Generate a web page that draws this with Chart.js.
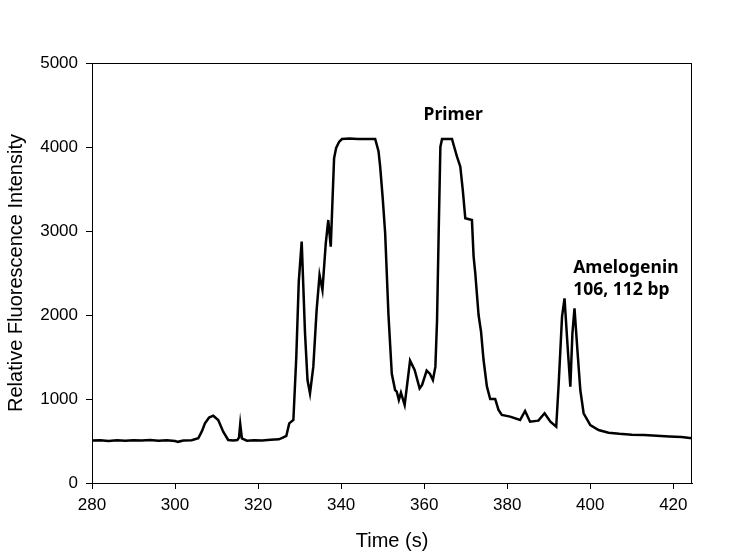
<!DOCTYPE html>
<html>
<head>
<meta charset="utf-8">
<script src="https://cdn.jsdelivr.net/npm/chart.js@4.4.1/dist/chart.umd.min.js"></script>
<style>
  html, body { margin: 0; padding: 0; background: #fff; }
  canvas { display: block; }
</style>
</head>
<body>
<canvas id="chart" width="748" height="557"></canvas>
<script>
// electropherogram trace
const times = [
  280, 282, 284, 286, 288, 290, 292, 294, 296, 298, 300, 300.7, 302, 304, 305.6,
  306.5, 307.2, 308.2, 309.2, 310.4, 311.6, 312.8, 314, 315, 315.4, 315.7, 316.1,
  317.3, 319, 321, 323, 325, 326.1, 326.8, 327.5, 328.5, 329.2, 329.8, 330.5,
  331.3, 331.9, 332.5, 333.3, 334.1, 334.8, 335.5, 336.3, 336.9, 337.5, 338.3,
  338.8, 339.5, 340.2, 342, 344, 346, 348.2, 349, 349.4, 350, 350.6, 351.4,
  352.2, 353, 353.4, 353.9, 354.4, 355.3, 356.6, 357.7, 358.9, 359.5, 360.6,
  361.4, 362.1, 362.7, 363.1, 363.5, 363.9, 364.3, 366.7, 367.1, 367.9, 368.7,
  369.3, 369.9, 371.5, 371.9, 372.3, 373.1, 373.7, 374.3, 375.1, 375.9, 377.1,
  377.9, 378.7, 380.7, 383.1, 384.3, 385.5, 387.5, 389, 390.4, 391.8, 392.4,
  393.2, 393.8, 394.6, 395.2, 395.7, 396.2, 396.9, 397.6, 398.4, 400, 402,
  404.4, 407, 410, 413, 416, 419, 422, 424.5
];
const intensity = [
  505, 510, 500, 508, 502, 510, 505, 512, 503, 508, 500, 490, 505, 510, 532,
  620, 710, 780, 801, 750, 611, 512, 505, 512, 540, 702, 532,
  504, 510, 505, 515, 520, 544, 560, 710, 750, 1500, 2400, 2873,
  1786, 1226, 1067, 1385, 2060, 2476, 2298, 2853, 3131, 2813, 3865,
  3990, 4060, 4095, 4100, 4095, 4095, 4095, 3950, 3766, 3400, 2976, 2000,
  1300, 1107, 1087, 988, 1075, 929, 1456, 1345, 1127, 1167, 1337,
  1298, 1226, 1385, 1940, 3000, 4000, 4095, 4095, 4024, 3885, 3766,
  3488, 3151, 3130, 2698, 2500, 2000, 1800, 1464, 1150, 1000, 1000,
  870, 810, 790, 750, 857, 730, 742, 830, 730, 670, 1187,
  1980, 2198, 1583, 1147, 1782, 2080, 1583, 1107, 830, 690, 631,
  599, 585, 575, 570, 562, 555, 548, 532
];

const xTicks = [280, 300, 320, 340, 360, 380, 400, 420];
const yTicks = [0, 1000, 2000, 3000, 4000, 5000];

const xTitle = 'Time (s)';
const yTitle = 'Relative Fluorescence Intensity';

// labels placed in data units
const notes = [
  { text: ['Primer'], x: 367, y: 4380, align: 'center' },
  { text: ['Amelogenin', '106, 112 bp'], x: 395.9, y: 2560, align: 'left' }
];

const points = times.map((t, i) => ({ x: t, y: intensity[i] }));

const frameAndNotes = {
  id: 'frameAndNotes',
  afterDraw(chart) {
    const { ctx, chartArea, scales } = chart;
    ctx.save();
    ctx.strokeStyle = '#000';
    ctx.lineWidth = 1;
    ctx.strokeRect(chartArea.left + 0.5, chartArea.top + 0.5,
      chartArea.right - chartArea.left - 1, chartArea.bottom - chartArea.top);

    ctx.fillStyle = '#000';
    ctx.font = 'bold 17.5px "Noto Sans", sans-serif';
    ctx.textBaseline = 'middle';
    notes.forEach(note => {
      ctx.textAlign = note.align;
      const px = scales.x.getPixelForValue(note.x);
      const py = scales.y.getPixelForValue(note.y);
      note.text.forEach((line, i) => {
        ctx.fillText(line, px, py + i * 22);
      });
    });
    ctx.restore();
  }
};

const axisFont = { family: '"Liberation Sans", Arial, sans-serif', size: 17 };
const titleFont = { family: '"Liberation Sans", Arial, sans-serif', size: 20 };

new Chart(document.getElementById('chart').getContext('2d'), {
  type: 'line',
  data: {
    datasets: [{
      data: points,
      borderColor: '#000',
      borderWidth: 2.5,
      pointRadius: 0,
      tension: 0,
      fill: false
    }]
  },
  options: {
    responsive: false,
    animation: false,
    devicePixelRatio: 1,
    layout: {
      padding: { top: 63, right: 56, left: 0, bottom: 0 }
    },
    plugins: {
      legend: { display: false },
      tooltip: { enabled: false }
    },
    scales: {
      x: {
        type: 'linear',
        min: 280,
        max: 424.5,
        afterBuildTicks: scale => {
          scale.ticks = xTicks.map(v => ({ value: v }));
        },
        afterFit: scale => {
          scale.height = 74;
        },
        grid: {
          drawOnChartArea: false,
          drawTicks: true,
          tickLength: 6,
          color: '#000'
        },
        border: { color: '#000', width: 1 },
        ticks: {
          color: '#000',
          font: axisFont,
          padding: 6,
          maxRotation: 0,
          callback: v => String(v)
        },
        title: {
          display: true,
          text: xTitle,
          color: '#000',
          font: titleFont,
          padding: { top: 0, bottom: 4 }
        }
      },
      y: {
        min: 0,
        max: 5000,
        afterBuildTicks: scale => {
          scale.ticks = yTicks.map(v => ({ value: v }));
        },
        afterFit: scale => {
          scale.width = 92;
        },
        grid: {
          drawOnChartArea: false,
          drawTicks: true,
          tickLength: 6,
          color: '#000'
        },
        border: { color: '#000', width: 1 },
        ticks: {
          color: '#000',
          font: axisFont,
          padding: 8,
          callback: v => String(v)
        },
        title: {
          display: true,
          text: yTitle,
          color: '#000',
          font: titleFont,
          padding: { top: 4, bottom: 0 }
        }
      }
    }
  },
  plugins: [frameAndNotes]
});
</script>
</body>
</html>
